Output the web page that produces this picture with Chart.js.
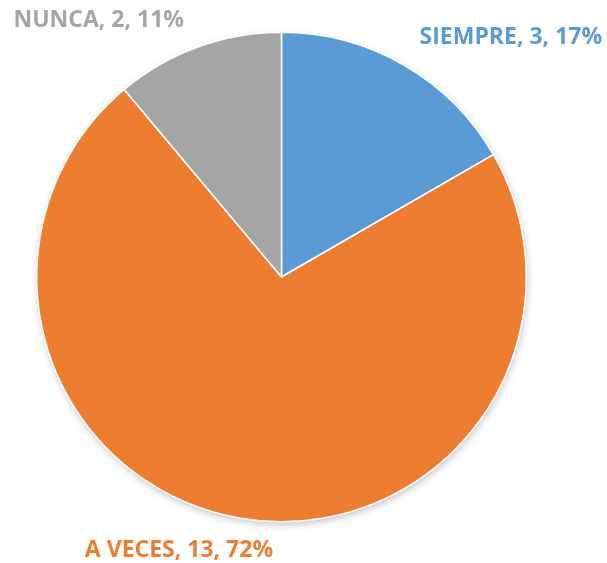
<!DOCTYPE html>
<html>
<head>
<meta charset="utf-8">
<script src="https://cdn.jsdelivr.net/npm/chart.js@4"></script>
<style>
  html, body { margin: 0; padding: 0; background: #fff; }
  #wrap { width: 607px; height: 563px; }
</style>
</head>
<body>
<div id="wrap"><canvas id="chartPie"></canvas></div>
<script>
const categorias = ["SIEMPRE", "A VECES", "NUNCA"];
const valores = [3, 13, 2];
const porcentajes = [17, 72, 11];
const colores = ["#5B9BD5", "#ED7D31", "#A5A5A5"];

// desplazamiento de cada etiqueta respecto al borde exterior del sector
const offsetsEtiqueta = [[107, -29], [-60, 31], [-99, -28]];

const sombraPie = {
    id: "sombraPie",
    beforeDatasetsDraw(chart) {
        const arc = chart.getDatasetMeta(0).data[0];
        if (!arc) return;
        const ctx = chart.ctx;
        ctx.save();
        ctx.shadowColor = "rgba(0,0,0,0.28)";
        ctx.shadowBlur = 9;
        ctx.shadowOffsetX = 1;
        ctx.shadowOffsetY = 3;
        ctx.fillStyle = "#fff";
        ctx.beginPath();
        ctx.arc(arc.x, arc.y, arc.outerRadius - 1, 0, Math.PI * 2);
        ctx.fill();
        ctx.restore();
    }
};

const etiquetasPie = {
    id: "etiquetasPie",
    afterDatasetsDraw(chart) {
        const ctx = chart.ctx;
        const arcs = chart.getDatasetMeta(0).data;
        ctx.save();
        ctx.font = 'bold 23px "Open Sans"';
        ctx.textAlign = "center";
        ctx.textBaseline = "middle";
        arcs.forEach((arc, i) => {
            const mid = (arc.startAngle + arc.endAngle) / 2;
            const px = arc.x + Math.cos(mid) * arc.outerRadius;
            const py = arc.y + Math.sin(mid) * arc.outerRadius;
            const texto = `${categorias[i]}, ${valores[i]}, ${porcentajes[i]}%`;
            ctx.fillStyle = colores[i];
            ctx.fillText(texto, px + offsetsEtiqueta[i][0], py + offsetsEtiqueta[i][1] + 1);
        });
        ctx.restore();
    }
};

new Chart(document.getElementById("chartPie"), {
    type: "pie",
    data: {
        labels: categorias,
        datasets: [{
            data: valores,
            backgroundColor: colores,
            borderColor: "#fff",
            borderWidth: 1.5
        }]
    },
    options: {
        responsive: true,
        maintainAspectRatio: false,
        animation: false,
        layout: { padding: { top: 31, bottom: 40, left: 36, right: 80 } },
        plugins: {
            legend: { display: false },
            tooltip: { enabled: false }
        }
    },
    plugins: [sombraPie, etiquetasPie]
});
</script>
</body>
</html>
